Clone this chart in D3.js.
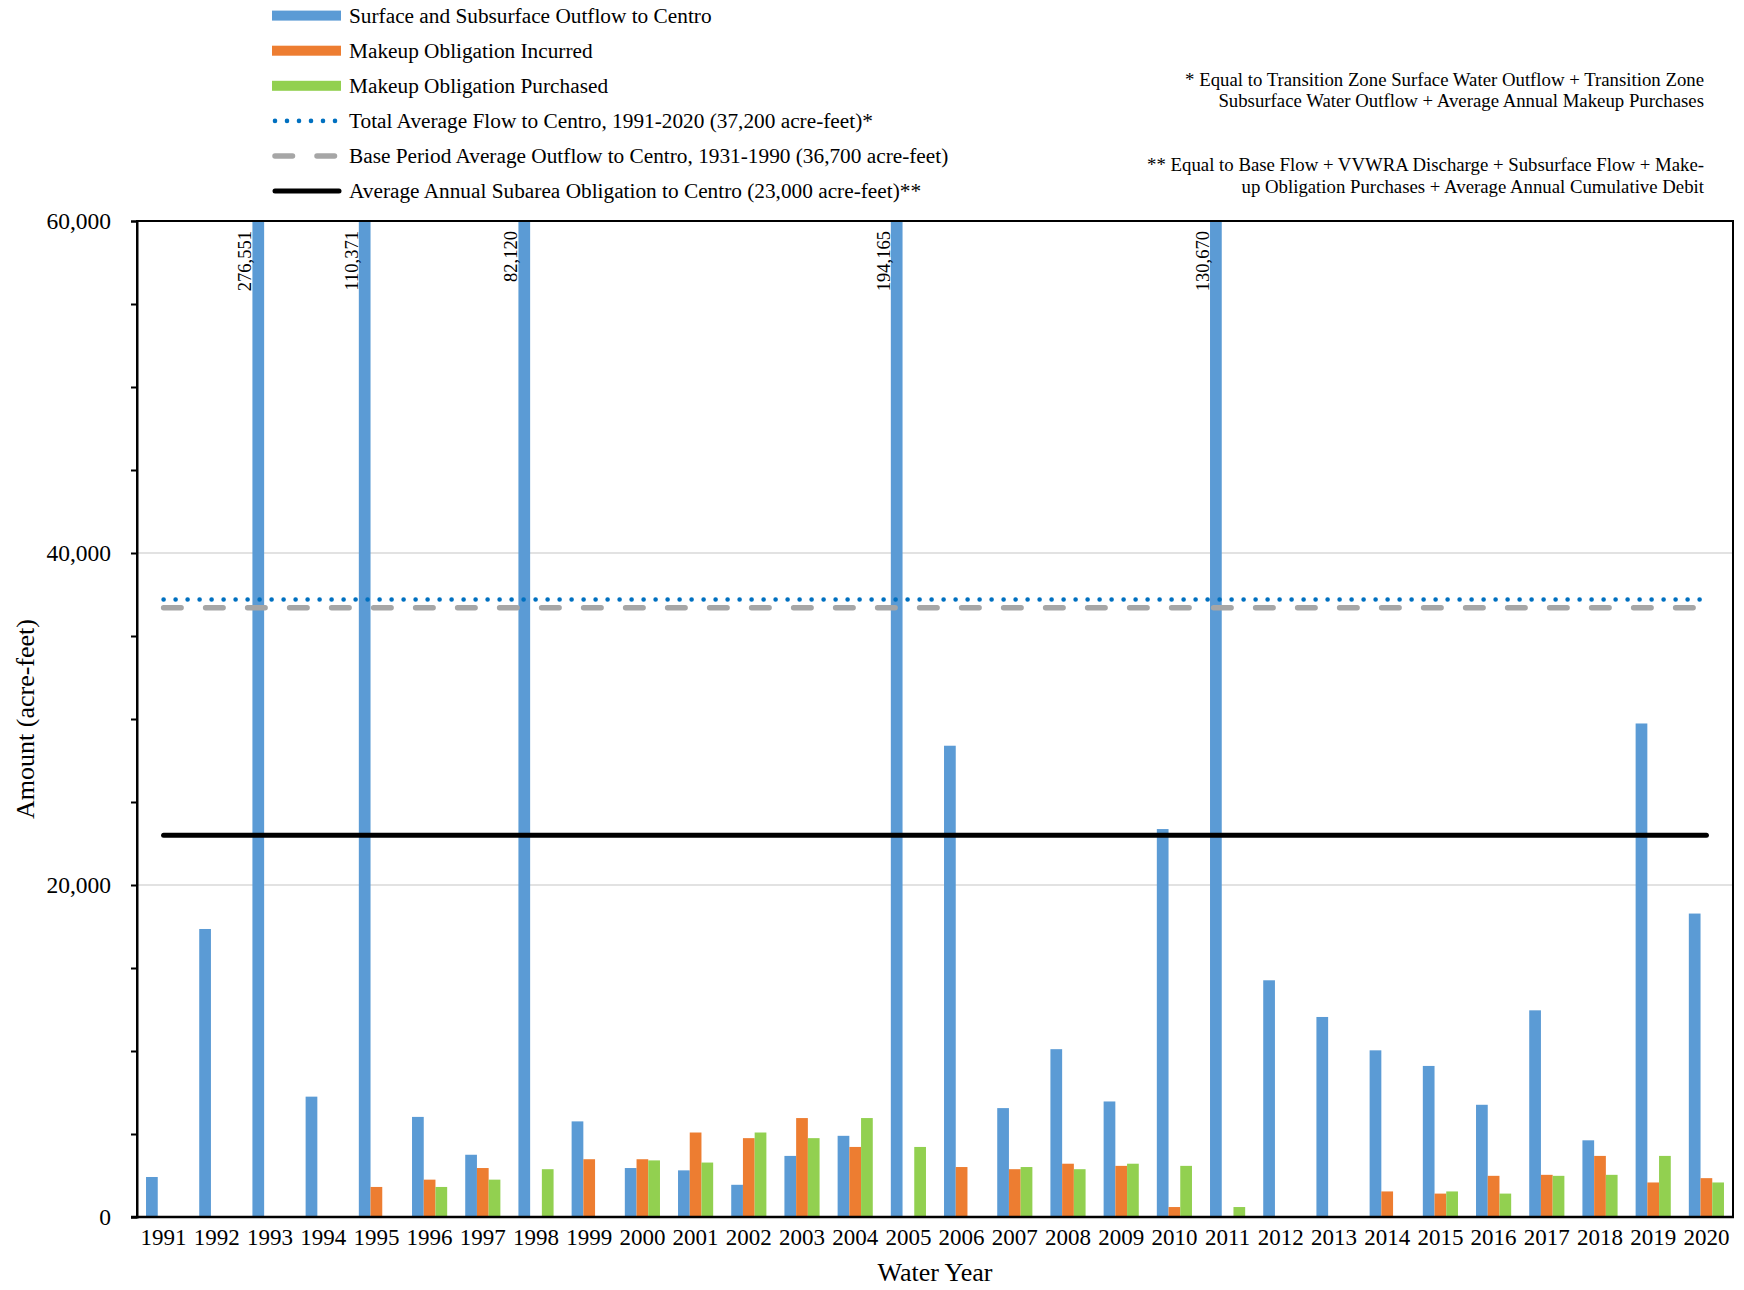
<!DOCTYPE html>
<html>
<head>
<meta charset="utf-8">
<script src="https://cdn.jsdelivr.net/npm/d3@7"></script>
<style>
  body { margin: 0; background: #fff; }
  svg text { font-family: "Liberation Serif", "Times New Roman", serif; fill: #000; }
</style>
</head>
<body>
<div id="chart"></div>
<script>
const years = ['1991', '1992', '1993', '1994', '1995', '1996', '1997', '1998', '1999', '2000',
  '2001', '2002', '2003', '2004', '2005', '2006', '2007', '2008', '2009', '2010',
  '2011', '2012', '2013', '2014', '2015', '2016', '2017', '2018', '2019', '2020'];

const outflow = [2410, 17350, 276551, 7250, 110371, 6030, 3750, 82120, 5760, 2950,
  2810, 1940, 3680, 4890, 194165, 28390, 6560, 10110, 6960, 23370,
  130670, 14260, 12050, 10040, 9100, 6760, 12450, 4620, 29730, 18280];

const incurred = [0, 0, 0, 0, 1810, 2250, 2950, 0, 3480, 3480,
  5090, 4750, 5960, 4220, 0, 3010, 2880, 3210, 3080, 600,
  0, 0, 0, 1540, 1410, 2480, 2540, 3680, 2080, 2340];

const purchased = [0, 0, 0, 0, 0, 1810, 2250, 2880, 0, 3410,
  3280, 5090, 4750, 5960, 4220, 0, 3010, 2880, 3210, 3080,
  600, 0, 0, 0, 1540, 1410, 2480, 2540, 3680, 2080];

const totalAverage = 37200;
const baseAverage = 36700;
const obligation = 23000;

const yTicks = [0, 5000, 10000, 15000, 20000, 25000, 30000, 35000, 40000, 45000, 50000, 55000, 60000];
const yLabelTicks = [0, 20000, 40000, 60000];

const seriesNames = [
  'Surface and Subsurface Outflow to Centro',
  'Makeup Obligation Incurred',
  'Makeup Obligation Purchased'
];
const lineNames = [
  'Total Average Flow to Centro, 1991-2020 (37,200 acre-feet)*',
  'Base Period Average Outflow to Centro, 1931-1990 (36,700 acre-feet)',
  'Average Annual Subarea Obligation to Centro (23,000 acre-feet)**'
];
const notes = [
  ['* Equal to Transition Zone Surface Water Outflow + Transition Zone',
   'Subsurface Water Outflow + Average Annual Makeup Purchases'],
  ['** Equal to Base Flow + VVWRA Discharge + Subsurface Flow + Make-',
   'up Obligation Purchases + Average Annual Cumulative Debit']
];

const colors = ['#5B9BD5', '#ED7D31', '#92D050'];

const width = 1744;
const height = 1290;
const plot = { left: 137, top: 221, right: 1733, bottom: 1217 };

const svg = d3.select('#chart').append('svg')
  .attr('width', width)
  .attr('height', height);

const x0 = d3.scaleBand()
  .domain(years)
  .range([plot.left, plot.right])
  .paddingInner(0)
  .paddingOuter(0);

const x1 = d3.scaleBand()
  .domain([0, 1, 2])
  .range([0, x0.bandwidth()])
  .paddingInner(0)
  .paddingOuter(0.77);

const yMax = 60000;
const y = d3.scaleLinear()
  .domain([0, yMax])
  .range([plot.bottom, plot.top]);

// gridlines
svg.append('g')
  .selectAll('line')
  .data([20000, 40000])
  .enter()
  .append('line')
  .attr('x1', plot.left)
  .attr('x2', plot.right)
  .attr('y1', d => y(d))
  .attr('y2', d => y(d))
  .attr('stroke', '#D9D9D9')
  .attr('stroke-width', 1.5);

// bars, clipped at the top of the plot
svg.append('clipPath')
  .attr('id', 'plot-clip')
  .append('rect')
  .attr('x', plot.left)
  .attr('y', plot.top)
  .attr('width', plot.right - plot.left)
  .attr('height', plot.bottom - plot.top);

const barData = [];
[outflow, incurred, purchased].forEach((values, s) => {
  values.forEach((v, i) => barData.push({ year: years[i], series: s, value: v }));
});

svg.append('g')
  .attr('clip-path', 'url(#plot-clip)')
  .selectAll('rect')
  .data(barData.filter(d => d.value > 0))
  .enter()
  .append('rect')
  .attr('x', d => x0(d.year) + x1(d.series))
  .attr('width', x1.bandwidth())
  .attr('y', d => y(Math.min(d.value, yMax)))
  .attr('height', d => y(0) - y(Math.min(d.value, yMax)))
  .attr('fill', d => colors[d.series]);

// values of the bars that run off the top
svg.append('g')
  .selectAll('text')
  .data(barData.filter(d => d.series === 0 && d.value > yMax))
  .enter()
  .append('text')
  .attr('transform', d => `translate(${x0(d.year) + x1(0) - 1}, ${plot.top + 10}) rotate(-90)`)
  .attr('text-anchor', 'end')
  .attr('font-size', 18.5)
  .text(d => d3.format(',')(d.value));

// reference lines, from the first to the last category centre
const lineX1 = x0(years[0]) + x0.bandwidth() / 2;
const lineX2 = x0(years[years.length - 1]) + x0.bandwidth() / 2;
const lineStyles = [
  { value: totalAverage, color: '#0070C0', width: 4.6, dash: '0 12', cap: 'round' },
  { value: baseAverage, color: '#A6A6A6', width: 5.5, dash: '17.5 24.5', cap: 'round' },
  { value: obligation, color: '#000000', width: 5, dash: null, cap: 'round' }
];

svg.append('g')
  .selectAll('line')
  .data(lineStyles)
  .enter()
  .append('line')
  .attr('x1', lineX1)
  .attr('x2', lineX2)
  .attr('y1', d => y(d.value))
  .attr('y2', d => y(d.value))
  .attr('stroke', d => d.color)
  .attr('stroke-width', d => d.width)
  .attr('stroke-dasharray', d => d.dash)
  .attr('stroke-linecap', d => d.cap);

// frame
svg.append('rect')
  .attr('x', plot.left)
  .attr('y', plot.top)
  .attr('width', plot.right - plot.left)
  .attr('height', plot.bottom - plot.top)
  .attr('fill', 'none')
  .attr('stroke', '#000')
  .attr('stroke-width', 2);

// y axis
const yAxis = svg.append('g')
  .attr('transform', `translate(${plot.left}, 0)`)
  .call(d3.axisLeft(y)
    .tickValues(yTicks)
    .tickSize(6)
    .tickPadding(20)
    .tickFormat(d => yLabelTicks.includes(d) ? d3.format(',')(d) : ''));
yAxis.select('.domain').attr('stroke', '#000').attr('stroke-width', 2);
yAxis.selectAll('.tick line').attr('stroke', '#000').attr('stroke-width', 2);
yAxis.selectAll('.tick text')
  .attr('font-size', 23.5)
  .attr('font-family', '"Liberation Serif", "Times New Roman", serif');

// x axis
const xAxis = svg.append('g')
  .attr('transform', `translate(0, ${plot.bottom})`)
  .call(d3.axisBottom(x0).tickSize(0).tickPadding(12));
xAxis.select('.domain').remove();
xAxis.selectAll('.tick text')
  .attr('font-size', 23)
  .attr('font-family', '"Liberation Serif", "Times New Roman", serif');

svg.append('line')
  .attr('x1', plot.left - 6)
  .attr('x2', plot.right + 1)
  .attr('y1', plot.bottom)
  .attr('y2', plot.bottom)
  .attr('stroke', '#000')
  .attr('stroke-width', 2.5);

// axis titles
svg.append('text')
  .attr('x', (plot.left + plot.right) / 2)
  .attr('y', 1281)
  .attr('text-anchor', 'middle')
  .attr('font-size', 26)
  .text('Water Year');

svg.append('text')
  .attr('transform', `translate(34, ${(plot.top + plot.bottom) / 2}) rotate(-90)`)
  .attr('text-anchor', 'middle')
  .attr('font-size', 26)
  .text('Amount (acre-feet)');

// legend
const legend = svg.append('g');
const legendRows = seriesNames.map((name, i) => ({ name: name, type: 'bar', color: colors[i] }))
  .concat(lineNames.map((name, i) => ({ name: name, type: 'line', style: lineStyles[i] })));

legendRows.forEach((row, i) => {
  const cy = 15.6 + i * 35.1;
  if (row.type === 'bar') {
    legend.append('rect')
      .attr('x', 272)
      .attr('y', cy - 5)
      .attr('width', 69)
      .attr('height', 10)
      .attr('fill', row.color);
  } else {
    legend.append('line')
      .attr('x1', 275)
      .attr('x2', 339)
      .attr('y1', cy)
      .attr('y2', cy)
      .attr('stroke', row.style.color)
      .attr('stroke-width', row.style.width)
      .attr('stroke-dasharray', row.style.dash)
      .attr('stroke-linecap', row.style.cap);
  }
  legend.append('text')
    .attr('x', 349)
    .attr('y', cy)
    .attr('dy', '0.34em')
    .attr('font-size', 21.3)
    .text(row.name);
});

// footnotes
const noteBaselines = [[86, 107], [171, 193]];
notes.forEach((lines, i) => {
  lines.forEach((line, j) => {
    svg.append('text')
      .attr('x', 1704)
      .attr('y', noteBaselines[i][j])
      .attr('text-anchor', 'end')
      .attr('font-size', 18.8)
      .text(line);
  });
});
</script>
</body>
</html>
